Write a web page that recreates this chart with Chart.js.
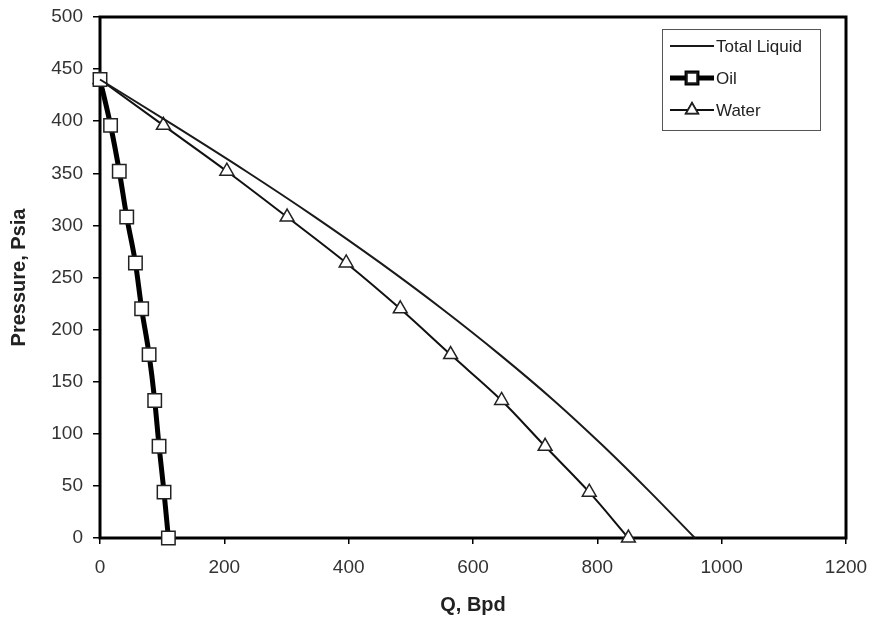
<!DOCTYPE html>
<html>
<head>
<meta charset="utf-8">
<script src="https://cdn.jsdelivr.net/npm/chart.js@4/dist/chart.umd.min.js"></script>
<style>
html, body { margin: 0; padding: 0; background: #fff; }
</style>
</head>
<body>
<canvas id="iprChart" width="870" height="622"></canvas>
<script>
// Values (Q in Bpd at each pressure in psia)
const pressure = [440, 396, 352, 308, 264, 220, 176, 132, 88, 44, 0];
const oilRate = [0, 17, 31, 43, 57, 67, 79, 88, 95, 103, 110];
const waterRate = [0, 102, 204, 301, 396, 483, 564, 646, 716, 787, 850];
const totalRate = [0, 119, 235, 346, 451, 550, 643, 730, 810, 885, 957];

const xTicks = [0, 200, 400, 600, 800, 1000, 1200];
const yTicks = [0, 50, 100, 150, 200, 250, 300, 350, 400, 450, 500];

const FONT = "'Liberation Sans', Arial, sans-serif";

function toPoints(rates) {
    return rates.map((q, i) => ({ x: q, y: pressure[i] }));
}

// thick box around the plot area, drawn under the markers
const framePlugin = {
    id: 'frame',
    beforeDatasetsDraw(chart) {
        const { ctx, chartArea: a } = chart;
        ctx.save();
        ctx.strokeStyle = '#000';
        ctx.lineWidth = 3;
        ctx.strokeRect(a.left, a.top, a.right - a.left, a.bottom - a.top);
        ctx.restore();
    }
};

// boxed legend sitting inside the top right corner of the plot
const boxLegendPlugin = {
    id: 'boxLegend',
    afterDraw(chart) {
        const ctx = chart.ctx;
        const left = 662, top = 29, w = 158, h = 101;
        ctx.save();
        ctx.fillStyle = '#fff';
        ctx.fillRect(left, top, w, h);
        ctx.strokeStyle = '#555';
        ctx.lineWidth = 1;
        ctx.strokeRect(left + 0.5, top + 0.5, w, h);

        chart.data.datasets.forEach((ds, i) => {
            const y = top + 17 + i * 32;
            const x0 = left + 8, x1 = left + 52;
            ctx.strokeStyle = ds.borderColor;
            ctx.lineWidth = ds.borderWidth;
            ctx.beginPath();
            ctx.moveTo(x0, y);
            ctx.lineTo(x1, y);
            ctx.stroke();
            if (ds.pointRadius > 0) {
                Chart.helpers.drawPoint(ctx, {
                    pointStyle: ds.pointStyle,
                    radius: 7,
                    borderWidth: ds.pointBorderWidth
                }, (x0 + x1) / 2, y);
                ctx.fillStyle = '#fff';
                ctx.strokeStyle = ds.pointBorderColor;
                ctx.lineWidth = ds.pointBorderWidth;
                ctx.fill();
                ctx.stroke();
            }
            ctx.fillStyle = '#222';
            ctx.font = '17px ' + FONT;
            ctx.textBaseline = 'middle';
            ctx.textAlign = 'left';
            ctx.fillText(ds.label, x1 + 2, y + 1);
        });
        ctx.restore();
    }
};

const ctx = document.getElementById('iprChart');

const iprChart = new Chart(ctx.getContext('2d'), {
    type: 'scatter',
    data: {
        datasets: [
            {
                label: 'Total Liquid',
                data: toPoints(totalRate),
                showLine: true,
                borderColor: '#1a1a1a',
                borderWidth: 2,
                pointRadius: 0,
                cubicInterpolationMode: 'monotone',
                clip: false
            },
            {
                label: 'Oil',
                data: toPoints(oilRate),
                showLine: true,
                borderColor: '#000',
                borderWidth: 5,
                pointStyle: 'rect',
                pointRadius: 9.5,
                pointBackgroundColor: '#fff',
                pointBorderColor: '#222',
                pointBorderWidth: 1.5,
                cubicInterpolationMode: 'monotone',
                clip: false
            },
            {
                label: 'Water',
                data: toPoints(waterRate),
                showLine: true,
                borderColor: '#111',
                borderWidth: 2,
                pointStyle: 'triangle',
                pointRadius: 8,
                pointBackgroundColor: '#fff',
                pointBorderColor: '#222',
                pointBorderWidth: 1.5,
                cubicInterpolationMode: 'monotone',
                clip: false
            }
        ]
    },
    options: {
        responsive: false,
        animation: false,
        layout: {
            padding: { top: 17, right: 24, left: 0, bottom: 0 }
        },
        plugins: {
            legend: { display: false },
            tooltip: { enabled: false }
        },
        scales: {
            x: {
                type: 'linear',
                min: 0,
                max: 1200,
                afterBuildTicks: function(scale) {
                    scale.ticks = xTicks.map(v => ({ value: v }));
                },
                afterFit: function(scale) {
                    scale.height = 84;
                    scale.paddingLeft = 0;
                    scale.paddingRight = 0;
                },
                grid: {
                    drawOnChartArea: false,
                    drawTicks: true,
                    tickLength: 6,
                    color: '#000',
                    lineWidth: 1.5
                },
                border: { display: false },
                ticks: {
                    color: '#333',
                    padding: 12,
                    font: { family: FONT, size: 19 },
                    callback: function(value) {
                        return String(value);
                    }
                },
                title: {
                    display: true,
                    text: 'Q, Bpd',
                    color: '#222',
                    padding: { top: 0, bottom: 5 },
                    font: { family: FONT, size: 20, weight: 'bold' }
                }
            },
            y: {
                type: 'linear',
                min: 0,
                max: 500,
                afterBuildTicks: function(scale) {
                    scale.ticks = yTicks.map(v => ({ value: v }));
                },
                afterFit: function(scale) {
                    scale.width = 100;
                    scale.paddingTop = 0;
                    scale.paddingBottom = 0;
                },
                grid: {
                    drawOnChartArea: false,
                    drawTicks: true,
                    tickLength: 7,
                    color: '#000',
                    lineWidth: 1.5
                },
                border: { display: false },
                ticks: {
                    color: '#333',
                    padding: 10,
                    font: { family: FONT, size: 19 },
                    callback: function(value) {
                        return String(value);
                    }
                },
                title: {
                    display: true,
                    text: 'Pressure, Psia',
                    color: '#222',
                    padding: { top: 7, bottom: 7 },
                    font: { family: FONT, size: 20, weight: 'bold' }
                }
            }
        }
    },
    plugins: [framePlugin, boxLegendPlugin]
});
</script>
</body>
</html>
